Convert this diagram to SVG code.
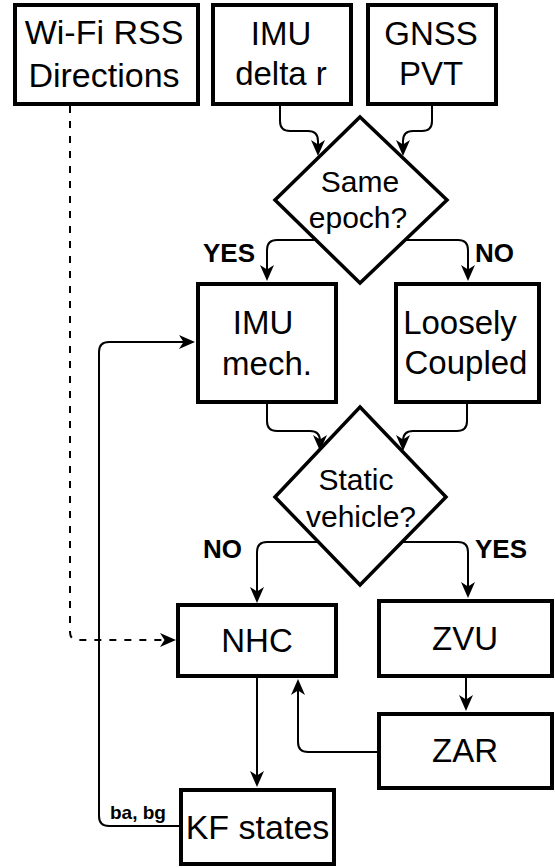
<svg xmlns="http://www.w3.org/2000/svg" width="555" height="868" viewBox="0 0 555 868">
<style>
.box{fill:#fff;stroke:#000;stroke-width:4}
.dia{fill:#fff;stroke:#000;stroke-width:3.5}
.t{font-family:"Liberation Sans",Arial,sans-serif;font-size:33px;fill:#000;text-anchor:middle}
.d{font-size:30px}
.lbl{font-family:"Liberation Sans",Arial,sans-serif;font-weight:bold;font-size:26px;fill:#000}
.c{fill:none;stroke:#000;stroke-width:2;marker-end:url(#ah)}
.dash{stroke-dasharray:7 8}
</style>
<defs>
<marker id="ah" viewBox="0 0 16 14" refX="12" refY="7" markerWidth="16" markerHeight="14" markerUnits="userSpaceOnUse" orient="auto">
<path d="M0,0 L16,7 L0,14 L4.5,7 Z" fill="#000"/>
</marker>
</defs>
<rect width="555" height="868" fill="#fff"/>
<g id="connectors">
<path class="c" d="M280,105 V121 Q280,131 290,131 H308 Q318,131 318,141 V152"/>
<path class="c" d="M432,105 V121 Q432,131 422,131 H413 Q403,131 403,141 V152"/>
<path class="c" d="M316,240 H277 Q267,240 267,250 V277"/>
<path class="c" d="M405,240 H458 Q468,240 468,250 V277"/>
<path class="c" d="M267,403 V421 Q267,431 277,431 H310 Q320,431 320,441 V447"/>
<path class="c" d="M467,403 V421 Q467,431 457,431 H413 Q403,431 403,441 V447"/>
<path class="c" d="M318,542 H267 Q257,542 257,552 V599"/>
<path class="c" d="M403,542 H458 Q468,542 468,552 V594"/>
<path class="c" d="M466,676 V707"/>
<path class="c" d="M378,752 H308 Q298,752 298,742 V683"/>
<path class="c" d="M257,677 V783"/>
<path class="c" d="M180,826 H109 Q99,826 99,816 V352 Q99,342 109,342 H191"/>
<path class="c dash" d="M70,106 V632 Q70,640 78,640 H172"/>
<text class="lbl" x="203" y="262">YES</text>
<text class="lbl" x="475" y="262">NO</text>
<text class="lbl" x="203" y="558">NO</text>
<text class="lbl" x="475" y="558">YES</text>
<text class="lbl" x="110" y="819" style="font-size:19px">ba, bg</text>
</g>
<g id="wifi">
<rect class="box" x="15" y="5" width="183" height="99"/>
<text class="t" x="104" y="44" style="font-size:34px">Wi-Fi RSS</text>
<text class="t" x="104" y="87" style="font-size:34px">Directions</text>
</g>
<g id="imu-delta">
<rect class="box" x="213" y="5" width="138" height="99"/>
<text class="t" x="281" y="45">IMU</text>
<text class="t" x="281" y="85">delta r</text>
</g>
<g id="gnss">
<rect class="box" x="368" y="5" width="128" height="99"/>
<text class="t" x="431" y="45">GNSS</text>
<text class="t" x="431" y="85">PVT</text>
</g>
<g id="same-epoch">
<polygon class="dia" points="360,117 447,200 360,283 275,200"/>
<text class="t d" x="360" y="192">Same</text>
<text class="t d" x="358" y="228">epoch?</text>
</g>
<g id="imu-mech">
<rect class="box" x="198" y="284" width="138" height="118"/>
<text class="t" x="263" y="334">IMU</text>
<text class="t" x="267" y="375">mech.</text>
</g>
<g id="loosely">
<rect class="box" x="396" y="284" width="143" height="118"/>
<text class="t" x="460" y="334">Loosely</text>
<text class="t" x="466" y="374">Coupled</text>
</g>
<g id="static">
<polygon class="dia" points="360,407 446,497 360,585 275,497"/>
<text class="t d" x="356" y="490">Static</text>
<text class="t d" x="361" y="527">vehicle?</text>
</g>
<g id="nhc">
<rect class="box" x="178" y="605" width="158" height="71"/>
<text class="t" x="257" y="652">NHC</text>
</g>
<g id="zvu">
<rect class="box" x="379" y="601" width="173" height="75"/>
<text class="t" x="465" y="650">ZVU</text>
</g>
<g id="zar">
<rect class="box" x="379" y="714" width="173" height="74"/>
<text class="t" x="465" y="762">ZAR</text>
</g>
<g id="kf">
<rect class="box" x="181" y="790" width="153" height="74"/>
<text class="t" x="257.5" y="839" style="font-size:34px">KF states</text>
</g>
</svg>
